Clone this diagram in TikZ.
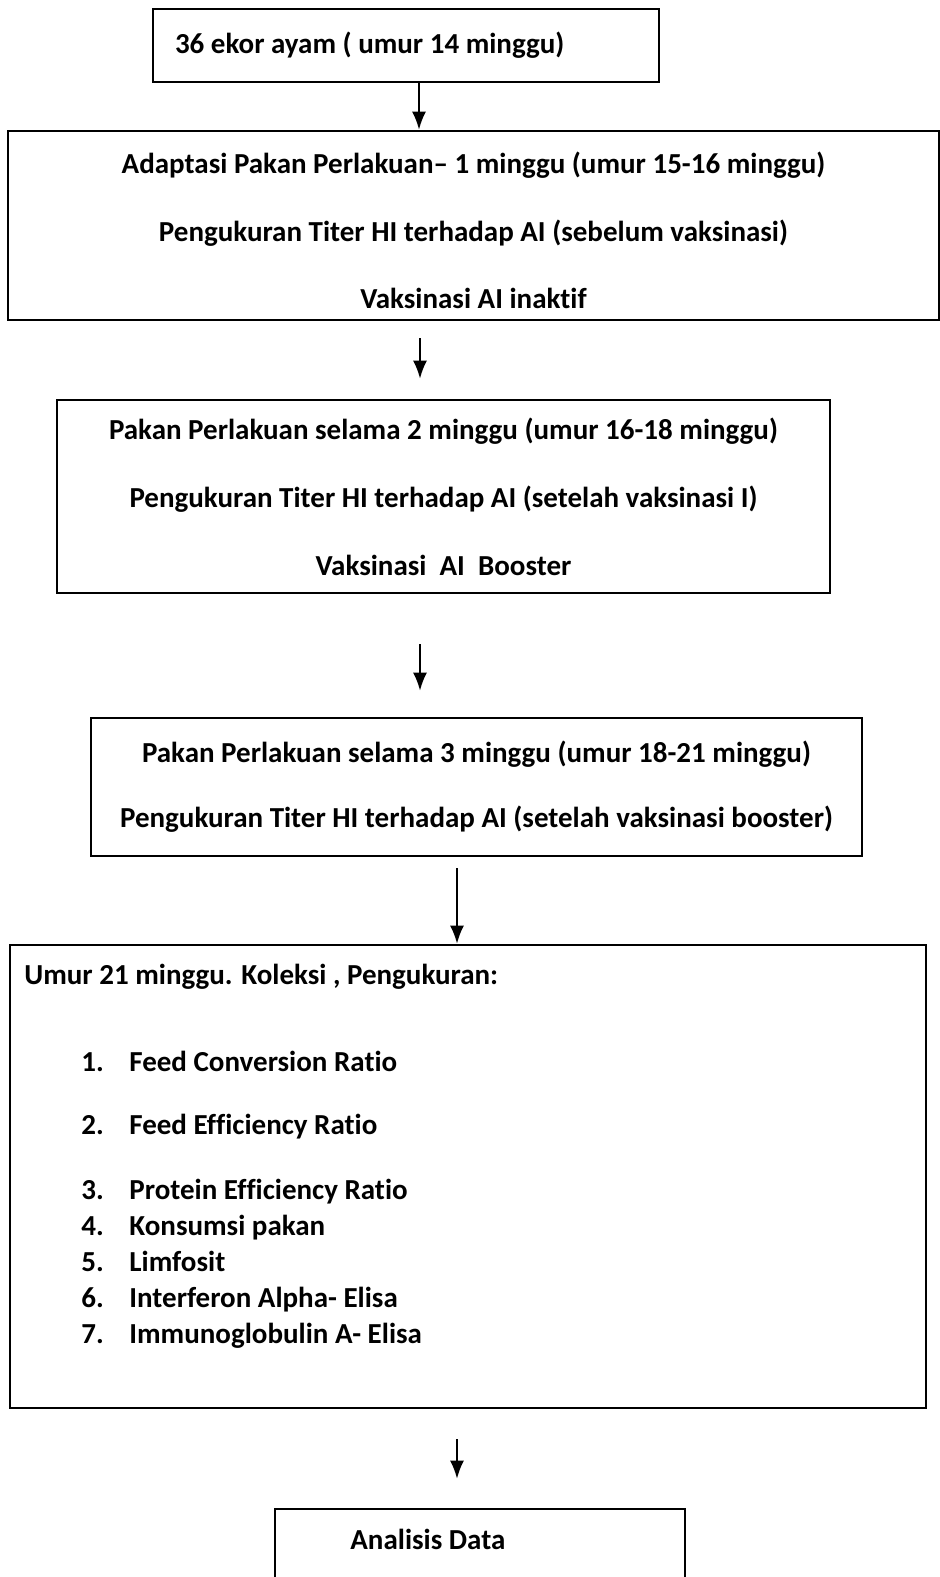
\documentclass[tikz,border=0pt]{standalone}
\usepackage{fontspec}
\setmainfont{Carlito}[Ligatures={NoCommon}]
\usetikzlibrary{arrows.meta,positioning}

\begin{document}
\begin{tikzpicture}[
  x=0.5pt,y=-0.5pt,
  s/.style={draw,line width=1.3pt,inner sep=0pt,align=center,
    font=\bfseries\fontsize{14.5pt}{17pt}\selectfont},
  t/.style={inner sep=0pt,align=left,
    font=\bfseries\fontsize{14.5pt}{18pt}\selectfont},
  a/.style={-{Latex[length=9pt,width=7pt]},line width=1pt}
]
  \useasboundingbox (0,0) rectangle (940,1577);
  \node[s,minimum width=253pt,minimum height=36.5pt,text width=231pt,
    inner xsep=11pt,align=flush left] (ayam) at (406,45.5)
    {36 ekor ayam ( umur 14 minggu)};
  \node[s,minimum width=465.5pt,minimum height=94.5pt,
    font=\bfseries\fontsize{14.5pt}{33.75pt}\selectfont] (adaptasi) at (473.5,225.5)
    {\rule{0pt}{16pt}Adaptasi Pakan Perlakuan– 1 minggu (umur 15-16 minggu)\\
     Pengukuran Titer HI terhadap AI (sebelum vaksinasi)\\
     Vaksinasi AI inaktif};
  \node[s,minimum width=386.5pt,minimum height=96.5pt,
    font=\bfseries\fontsize{14.5pt}{34pt}\selectfont] (pakanDua) at (443.5,496.5)
    {Pakan Perlakuan selama 2 minggu (umur 16-18 minggu)\\
     Pengukuran Titer HI terhadap AI (setelah vaksinasi I)\\
     Vaksinasi~ AI~ Booster};
  \node[s,minimum width=385.5pt,minimum height=69pt,
    font=\bfseries\fontsize{14.5pt}{32.5pt}\selectfont] (pakanTiga) at (476.5,787)
    {Pakan Perlakuan selama 3 minggu (umur 18-21 minggu)\\
     Pengukuran Titer HI terhadap AI (setelah vaksinasi booster)};
  \node[s,minimum width=458pt,minimum height=231.5pt] (koleksi) at (468,1176.5) {};
  \node[t,anchor=north west] (ukuran) at (24,964)
    {Umur 21 minggu. Koleksi , Pengukuran:\\[25.5pt]
     \hspace*{28.5pt}\makebox[24pt][l]{1.}Feed Conversion Ratio\\[13.5pt]
     \hspace*{28.5pt}\makebox[24pt][l]{2.}Feed Efficiency Ratio\\[14.5pt]
     \hspace*{28.5pt}\makebox[24pt][l]{3.}Protein Efficiency Ratio\\
     \hspace*{28.5pt}\makebox[24pt][l]{4.}Konsumsi pakan\\
     \hspace*{28.5pt}\makebox[24pt][l]{5.}Limfosit\\
     \hspace*{28.5pt}\makebox[24pt][l]{6.}Interferon Alpha- Elisa\\
     \hspace*{28.5pt}\makebox[24pt][l]{7.}Immunoglobulin A- Elisa};
  \node[s,minimum width=205pt,minimum height=55.5pt] (analisis) at (480,1564.5) {};
  \node[t,anchor=north west] (analisisText) at (350,1529) {Analisis Data};
  \coordinate (p1) at ([xshift=6.5pt]ayam.south);
  \draw[a] (p1) -- (p1 |- adaptasi.north);
  \coordinate (p2) at ([xshift=-26.75pt]adaptasi.south);
  \draw[a,shorten <=8.5pt,shorten >=10pt] (p2) -- (p2 |- pakanDua.north);
  \coordinate (p3) at ([xshift=-11.75pt]pakanDua.south);
  \draw[a,shorten <=25pt,shorten >=13pt] (p3) -- (p3 |- pakanTiga.north);
  \coordinate (p4) at ([xshift=-9.75pt]pakanTiga.south);
  \draw[a,shorten <=5.5pt] (p4) -- (p4 |- koleksi.north);
  \coordinate (p5) at ([xshift=-5.5pt]koleksi.south);
  \draw[a,shorten <=15pt,shorten >=14.5pt] (p5) -- (p5 |- analisis.north);
\end{tikzpicture}
\end{document}
